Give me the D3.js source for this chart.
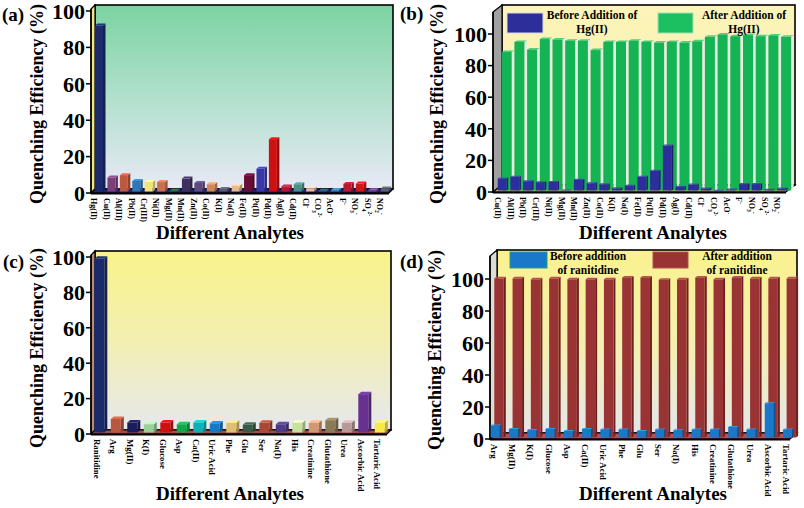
<!DOCTYPE html>
<html>
<head>
<meta charset="utf-8">
<script src="https://cdn.jsdelivr.net/npm/d3@7"></script>
<style>
  body { margin: 0; background: #fff; }
  svg { display: block; }
  text { font-family: "Liberation Serif", "Times New Roman", serif; font-weight: bold; fill: #000; }
</style>
</head>
<body>
<svg id="chart" width="804" height="508"></svg>
<script>
// ---- data ----
const metalIons = ["Hg(II)", "Cu(II)", "Al(III)", "Pb(II)", "Cr(III)", "Ni(II)", "Mg(II)", "Mn(II)", "Zn(II)",
  "Co(II)", "K(I)", "Na(I)", "Fe(II)", "Pt(II)", "Pd(II)", "Ag(I)", "Cd(II)", "Cl^-", "CO_3^2-", "AcO^-",
  "F^-", "NO_3^-", "SO_4^2-", "NO_2^-"];
const quenchMetals = [92, 8.5, 9.8, 6.6, 6.1, 6.1, 1.2, 7.9, 5.5, 4.8, 2.2, 4, 9.8, 13.3, 29.6, 3.6, 4.8,
  2.5, 1.2, 1.7, 5, 5.2, 1.5, 2.5];
const colorsMetals = ["#1b2a6b", "#7b3f78", "#c0583f", "#2f78b8", "#f0e678", "#c87050", "#2a6a3a", "#3d2f5e",
  "#5e4880", "#d08858", "#5a5a6a", "#e8b890", "#6a0c38", "#3838a8", "#d01010", "#b01838", "#4a9088",
  "#e8b8a0", "#2e5e70", "#3a80b0", "#b81830", "#d01818", "#7a4a98", "#5a6070"];

const interferents = metalIons.slice(1);
const beforeHg = [8.5, 9.6, 6.8, 6.2, 6.4, 1, 7.8, 5.5, 4.9, 2.3, 4, 9.6, 13.4, 29.4, 3.4, 4.7, 2.2, 0.8, 1.6,
  5, 5, 1.5, 2.2];
const afterHg = [88.6, 95, 90.2, 96.8, 96.5, 95.8, 95.8, 89.8, 95, 95, 95.8, 95, 94.6, 95, 94.6, 95.4, 98.2,
  99.7, 98.6, 99.3, 98.6, 99.1, 98.2];

const biomolecules = ["Ranitidine", "Arg", "Mg(II)", "K(I)", "Glucose", "Asp", "Ca(II)", "Uric Acid", "Phe",
  "Glu", "Ser", "Na(I)", "His", "Creatinine", "Glutathione", "Urea", "Ascorbic Acid", "Tartaric Acid"];
const quenchBio = [99, 8.5, 6.5, 5.5, 6.5, 5.5, 6.5, 6, 6.3, 5.2, 6.3, 5.5, 6.3, 6.3, 7.8, 6.3, 22.5, 6.3];
const colorsBio = ["#1b2a6b", "#b85840", "#1c1c5c", "#98d098", "#d01010", "#10a848", "#10b0b8", "#1878c8",
  "#e0c070", "#3a5a48", "#a84838", "#503a88", "#c8e0a0", "#d09870", "#8a7a58", "#b89898", "#683090", "#f8e848"];

const coexisting = biomolecules.slice(1);
const beforeRan = [8.5, 6.3, 5.6, 6.3, 5, 6.3, 6, 6, 5, 6, 5.5, 6, 6, 7.5, 6, 22.3, 6];
const afterRan = [100.4, 100.4, 99.8, 100.4, 99.8, 99.8, 99.8, 101, 101, 99.6, 99.8, 101, 99.8, 101, 100.4,
  100.4, 100.4];

const yTicks = [0, 20, 40, 60, 80, 100];

const svg = d3.select("#chart");
const defs = svg.append("defs");

// writes "CO_3^2-" style label with sub/superscripts
function richText(sel, str) {
  const parts = str.split(/(?=[_^])/);
  let shift = 0;
  parts.forEach(p => {
    let want = 0, txt = p, small = false;
    if (p[0] === "_") { want = 2.5; txt = p.slice(1); small = true; }
    else if (p[0] === "^") { want = -3; txt = p.slice(1); small = true; }
    sel.append("tspan")
      .attr("dy", want - shift)
      .style("font-size", small ? "70%" : null)
      .text(txt);
    shift = want;
  });
}

function bar3d(g, x, w, yTop, yBase, sx, sy, front, side, top) {
  g.append("path")
    .attr("d", `M${x + w},${yTop}L${x + w + sx},${yTop - sy}L${x + w + sx},${yBase - sy}L${x + w},${yBase}Z`)
    .attr("fill", side);
  g.append("path")
    .attr("d", `M${x},${yTop}L${x + sx},${yTop - sy}L${x + w + sx},${yTop - sy}L${x + w},${yTop}Z`)
    .attr("fill", top);
  g.append("rect")
    .attr("x", x).attr("y", yTop)
    .attr("width", w).attr("height", Math.max(0, yBase - yTop))
    .attr("fill", front);
}

function drawPanel(p) {
  const g = svg.append("g");
  const grad = defs.append("linearGradient")
    .attr("id", "bg-" + p.id).attr("x1", 0).attr("y1", 0).attr("x2", 0).attr("y2", 1);
  p.bg.forEach(s => grad.append("stop").attr("offset", s[0]).attr("stop-color", s[1]));

  const y = d3.scaleLinear().domain([0, 100]).range([p.floor, p.y100]);
  const x = d3.scaleBand().domain(p.cats)
    .range([p.bandStart, p.bandStart + p.step * p.cats.length]);

  const bx0 = p.ox + p.dx;
  // back wall
  g.append("rect")
    .attr("x", bx0).attr("y", p.top)
    .attr("width", p.x1 - bx0).attr("height", p.floor - p.dy - p.top)
    .attr("fill", `url(#bg-${p.id})`)
    .attr("stroke", "#000").attr("stroke-width", 1.6);
  // left wall
  g.append("path")
    .attr("d", `M${p.ox},${p.top + p.dy}L${bx0},${p.top}L${bx0},${p.floor - p.dy}L${p.ox},${p.floor}Z`)
    .attr("fill", p.wall).attr("stroke", "#000").attr("stroke-width", 1.2);
  // floor
  g.append("path")
    .attr("d", `M${p.ox},${p.floor}L${bx0},${p.floor - p.dy}L${p.x1},${p.floor - p.dy}L${p.x1 - p.dx},${p.floor}Z`)
    .attr("fill", p.floorColor).attr("stroke", "#000").attr("stroke-width", 1.2);
  g.append("line")
    .attr("x1", p.ox).attr("x2", p.x1 - p.dx).attr("y1", p.floor + 0.5).attr("y2", p.floor + 0.5)
    .attr("stroke", "#000").attr("stroke-width", 2);
  g.append("line")
    .attr("x1", p.ox).attr("x2", p.ox).attr("y1", p.top + p.dy).attr("y2", p.floor)
    .attr("stroke", "#000").attr("stroke-width", 1.6);

  // y ticks
  yTicks.forEach(t => {
    g.append("line")
      .attr("x1", p.ox - 5).attr("x2", p.ox).attr("y1", y(t)).attr("y2", y(t))
      .attr("stroke", "#000").attr("stroke-width", 1.5);
    g.append("text")
      .attr("x", p.ox - 6).attr("y", y(t)).attr("dy", "0.35em")
      .attr("text-anchor", "end").style("font-size", "22px")
      .text(t);
  });

  // bars
  const base = y(0) - 1.5;
  if (p.values) {
    p.cats.forEach((c, i) => {
      const col = d3.color(p.colors[i]);
      bar3d(g, x(c) + p.barOff, p.barW, y(p.values[i]), base, p.sx, p.sy,
        col.formatHex(), col.darker(0.8).formatHex(), col.brighter(0.6).formatHex());
    });
  } else {
    p.cats.forEach((c, i) => {
      bar3d(g, x(c) + p.backOff, p.backW, y(p.back[i]), base, p.sx, p.sy,
        p.backColor[0], p.backColor[1], p.backColor[2]);
    });
    p.cats.forEach((c, i) => {
      bar3d(g, x(c) + p.frontOff, p.frontW, y(p.front[i]), base, 1.5, 1,
        p.frontColor[0], p.frontColor[1], p.frontColor[2]);
    });
  }

  // category labels, rotated to read downwards
  p.cats.forEach(c => {
    const t = g.append("text")
      .attr("transform", `translate(${x(c) + p.labelOff - p.labelSize * 0.33},${p.floor + 5}) rotate(90)`)
      .style("font-size", p.labelSize + "px");
    richText(t, c);
  });

  // titles
  g.append("text")
    .attr("x", p.xTitle[0]).attr("y", p.xTitle[1])
    .attr("text-anchor", "middle").style("font-size", "19px")
    .text("Different Analytes");
  g.append("text")
    .attr("transform", `translate(${p.yTitle[0]},${p.yTitle[1]}) rotate(-90)`)
    .attr("text-anchor", "middle").style("font-size", "18px")
    .text("Quenching Efficiency (%)");
  g.append("text")
    .attr("x", p.tag[0]).attr("y", p.tag[1])
    .style("font-size", "19px")
    .text(p.tagText);

  if (p.legend) {
    p.legend.forEach(l => {
      g.append("rect")
        .attr("x", l.box[0]).attr("y", l.box[1]).attr("width", l.box[2]).attr("height", l.box[3])
        .attr("fill", l.fill).attr("stroke", l.stroke).attr("stroke-width", 1);
      l.lines.forEach((s, k) => {
        g.append("text")
          .attr("x", l.cx).attr("y", l.y0 + k * 13.5)
          .attr("text-anchor", "middle").style("font-size", "11.5px")
          .text(s);
      });
    });
  }
}

drawPanel({
  id: "a", cats: metalIons, values: quenchMetals, colors: colorsMetals,
  ox: 91, dx: 4, dy: 4, x1: 393, top: 5, floor: 193, y100: 11,
  bandStart: 95, step: 12.42, barOff: 0, barW: 8, sx: 2.5, sy: 2,
  labelOff: -1, labelSize: 8,
  bg: [[0, "#7cd3a2"], [0.45, "#abdfc8"], [1, "#e8e9f5"]],
  wall: "#ece58a", floorColor: "#20207a",
  xTitle: [230, 239], yTitle: [43, 104], tag: [2, 21], tagText: "(a)"
});

drawPanel({
  id: "b", cats: interferents, front: beforeHg, back: afterHg,
  ox: 493, dx: 9, dy: 7, x1: 795, top: 5, floor: 192, y100: 34,
  bandStart: 497.7, step: 12.7, frontOff: 0, frontW: 9, backOff: 4, backW: 10, sx: 2.6, sy: 1.5,
  frontColor: ["#2e2e9a", "#1e1e6a", "#4a4ab8"], backColor: ["#14b455", "#e4ece6", "#50d080"],
  labelOff: 0, labelSize: 8,
  bg: [[0, "#fcf4b8"], [1, "#f8efb0"]],
  wall: "#a0a0a0", floorColor: "#d8b060",
  xTitle: [653, 239], yTitle: [443, 104], tag: [400, 20], tagText: "(b)",
  legend: [
    { box: [507, 13, 36, 20], fill: "#2e2e9a", stroke: "#d8d8e8", cx: 592, y0: 19, lines: ["Before Addition of", "Hg(II)"] },
    { box: [658, 13, 35, 20], fill: "#1cc060", stroke: "#a0e0b0", cx: 744, y0: 19, lines: ["After Addition of", "Hg(II)"] }
  ]
});

drawPanel({
  id: "c", cats: biomolecules, values: quenchBio, colors: colorsBio,
  ox: 91, dx: 4, dy: 4, x1: 391, top: 251, floor: 434, y100: 257,
  bandStart: 94.3, step: 16.5, barOff: 0, barW: 10, sx: 3, sy: 2.5,
  labelOff: 2.5, labelSize: 8.8,
  bg: [[0, "#f9f38a"], [0.5, "#f3efb2"], [1, "#e6e8ee"]],
  wall: "#b88a74", floorColor: "#a05048",
  xTitle: [230, 500], yTitle: [43, 348], tag: [3, 268], tagText: "(c)"
});

drawPanel({
  id: "d", cats: coexisting, front: beforeRan, back: afterRan,
  ox: 490, dx: 7, dy: 6, x1: 797, top: 250, floor: 439, y100: 279,
  bandStart: 490.7, step: 18.27, frontOff: 0, frontW: 9, backOff: 3.6, backW: 9.5, sx: 2, sy: 1.5,
  frontColor: ["#1a78c8", "#10508a", "#3a98e0"], backColor: ["#9a3434", "#6e2020", "#b85050"],
  labelOff: 3, labelSize: 8.8,
  bg: [[0, "#faf28e"], [0.55, "#f4efb2"], [1, "#e4e6ea"]],
  wall: "#dcdcd4", floorColor: "#b05060",
  xTitle: [653, 500], yTitle: [441, 350], tag: [400, 268], tagText: "(d)",
  legend: [
    { box: [510, 252, 37, 16], fill: "#1a78c8", stroke: "#20a080", cx: 588, y0: 260, lines: ["Before addition", "of ranitidine"] },
    { box: [653, 252, 35, 16], fill: "#9a3434", stroke: "#b05050", cx: 737, y0: 260, lines: ["After addition", "of ranitidine"] }
  ]
});
</script>
</body>
</html>
